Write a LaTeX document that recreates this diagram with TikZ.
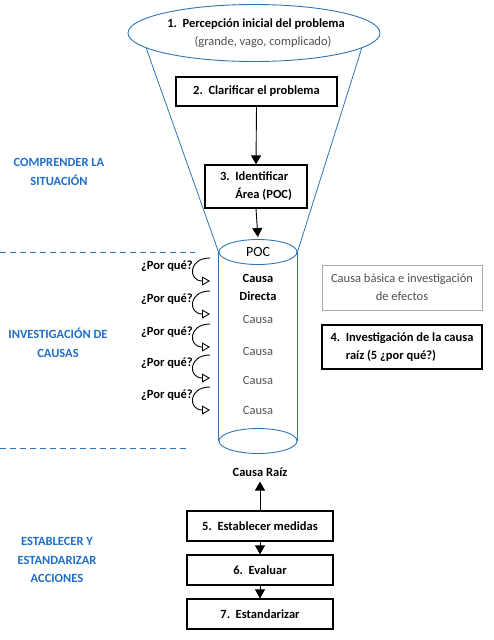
\documentclass[tikz,border=0pt]{standalone}
\usepackage{fontspec}
\setmainfont{Carlito}
\usetikzlibrary{arrows.meta,shapes.geometric}
\definecolor{azul}{RGB}{46,117,182}
\definecolor{azultxt}{RGB}{31,110,200}
\definecolor{grisTxt}{RGB}{80,80,80}
\definecolor{grisBorde}{RGB}{170,170,170}

\begin{document}
\begin{tikzpicture}[x=1pt, y=-1pt, every node/.style={inner sep=0pt, font=\fontsize{12.5}{15}\selectfont},
 paso/.style={draw=black, line width=1.2pt, font=\fontsize{12.5}{15}\selectfont\bfseries},
 flecha/.style={-{Triangle[length=9pt,width=10pt]}, line width=0.9pt},
 porque/.style={-{Triangle[open,length=8pt,width=9pt]}, line width=0.9pt},
 fase/.style={text=azultxt, align=center, font=\fontsize{12.5}{18.5}\selectfont\bfseries},
 corte/.style={azul, dash pattern=on 6pt off 4pt, line width=0.8pt},
 tapa/.style={ellipse, draw=azul, line width=0.9pt, minimum width=78pt, minimum height=25pt}]
\useasboundingbox (0,0) rectangle (494,640);
\node[ellipse, draw=azul, line width=0.9pt, minimum width=252pt, minimum height=57pt] (percep) at (254,33) {}; % Percepcion 
\node[font=\fontsize{12.5}{15}\selectfont\bfseries] (percep1) at (256,24) {1.~~Percepción inicial del problema}; % Percepcion.1 
\node[text=grisTxt] (percep2) at (263,42) {(grande, vago, complicado)}; % Percepcion.2 
\node[paso, minimum width=161pt, minimum height=29pt] (clarif) at (256.5,91.5) {2.~~Clarificar el problema}; % Paso.2 
\node[paso, minimum width=102pt, minimum height=43pt, align=left, font=\fontsize{12.5}{18}\selectfont\bfseries] (area) at (256,186.5) {3.~~Identificar\\\hphantom{3.~~}Área (POC)}; % Paso.3 
\node[tapa, font=\fontsize{14}{16}\selectfont] (poc) at (258,252) {POC}; % Cilindro.top 
\node[tapa] (fondo) at (258,441) {}; % Cilindro.bottom 
\draw[azul, line width=0.8pt] (percep.188)  -- (poc.west) ; % Embudo.izq 
\draw[azul, line width=0.8pt] (percep.352)  -- (poc.east) ; % Embudo.der 
\draw[azul, line width=0.9pt] (poc.west)  -- (fondo.west) ; % Cilindro.izq 
\draw[azul, line width=0.9pt] (poc.east)  -- (fondo.east) ; % Cilindro.der 
\draw[flecha] (clarif.south)  -- (area.north) ; % clarif-area 
\draw[flecha, shorten >=2pt] (area.south)  -- (poc.north) ; % area-poc 
\node[font=\fontsize{12.5}{18}\selectfont\bfseries, align=center] (directa) at (258,287) {Causa\\Directa}; % Causa.0 
\foreach \y [count=\i] in {319,351,380,410}
  \node[text=grisTxt] (causa\i) at (258,\y) {Causa}; % Causa.i 
\foreach \y [count=\i] in {258,291,324,355,387} {
  \node[anchor=east, font=\fontsize{12.5}{15}\selectfont\bfseries] (pq\i) at (193,\y+8) {¿Por qué?}; % Porque.i 
  \coordinate (pqa\i) at (210,\y);
  \coordinate (pqb\i) at (210,\y+23);
  \draw[porque] (pqa\i) .. controls (188,\y) and (188,\y+23) .. (pqb\i) ; % Porque.flecha 
}
\draw[corte] (0,252)  -- (195,252) ; % Corte.1 
\draw[corte] (0,448)  -- (190,448) ; % Corte.2 
\node[fase] (fase1) at (59,172) {COMPRENDER LA\\SITUACIÓN}; % Fase.1 
\node[fase] (fase2) at (58,343) {INVESTIGACIÓN DE\\CAUSAS}; % Fase.2 
\node[fase] (fase3) at (57,560) {ESTABLECER Y\\ESTANDARIZAR\\ACCIONES}; % Fase.3 
\node[draw=grisBorde, line width=0.8pt, text=grisTxt, align=center, minimum width=160pt, minimum height=45pt, font=\fontsize{12.5}{18}\selectfont] (basica) at (402,287.5) {Causa básica e investigación\\de efectos}; % Basica 
\node[paso, minimum width=160pt, minimum height=44pt, align=left, font=\fontsize{12.5}{18}\selectfont\bfseries] (invest) at (402,347) {4.~~Investigación de la causa\\\hphantom{4.~~}raíz (5 ¿por qué?)}; % Paso.4 
\node[font=\fontsize{12.5}{15}\selectfont\bfseries, inner sep=5pt] (raiz) at (260,472) {Causa Raíz}; % Raiz 
\node[paso, minimum width=146pt, minimum height=30pt] (medidas) at (260,526) {5.~~Establecer medidas}; % Paso.5 
\node[paso, minimum width=146pt, minimum height=30pt] (evaluar) at (260,570) {6.~~Evaluar}; % Paso.6 
\node[paso, minimum width=146pt, minimum height=30pt] (estand) at (260,614) {7.~~Estandarizar}; % Paso.7 
\draw[flecha] (medidas.north)  -- (raiz.south) ; % medidas-raiz 
\draw[flecha] (medidas.south)  -- (evaluar.north) ; % medidas-evaluar 
\draw[flecha] (evaluar.south)  -- (estand.north) ; % evaluar-estand 
\end{tikzpicture}
\end{document}
